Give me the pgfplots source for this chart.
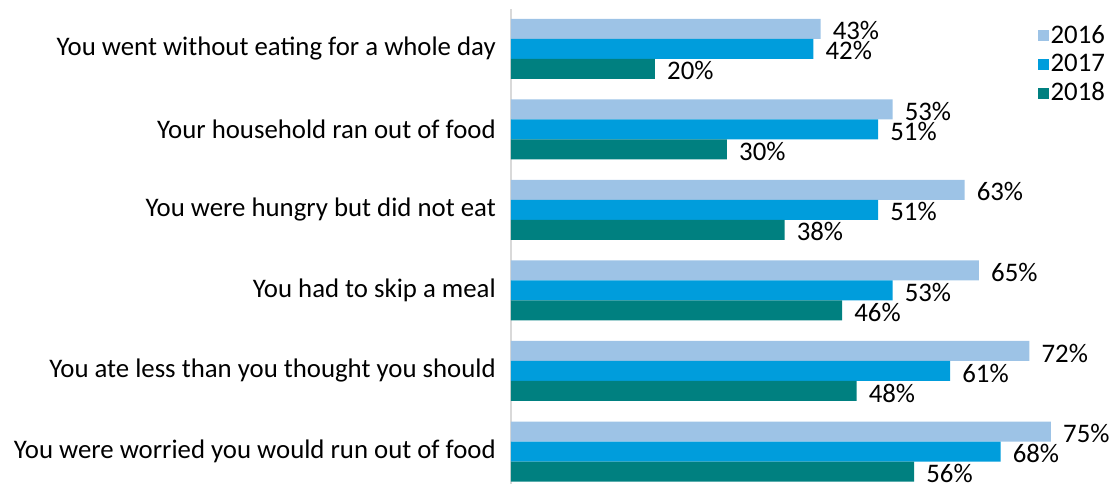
\documentclass[border=0pt]{standalone}
\usepackage{pgfplots}
\pgfplotsset{compat=1.18}
\usepackage{pgfplotstable}
\usepackage{fontspec}
\setmainfont{Carlito}
\definecolor{c16}{RGB}{157,195,230}
\definecolor{c17}{RGB}{0,157,220}
\definecolor{c18}{RGB}{0,128,128}
\definecolor{axgray}{RGB}{217,217,217}
\pgfplotstableread{
y v16 v17 v18
5 43 42 20
4 53 51 30
3 63 51 38
2 65 53 46
1 72 61 48
0 75 68 56
}\data
\newcommand{\bigfont}{\fontsize{26.8}{30}\selectfont}
\begin{document}
\begin{tikzpicture}
\begin{axis}[
  scale only axis,
  width=576pt, height=481.7pt,
  xmin=0, xmax=80,
  ymin=-0.49, ymax=5.49,
  xbar, bar width=20pt,
  axis x line=none,
  axis y line*=left,
  y axis line style={draw=axgray, line width=1.5pt},
  ytick={0,1,2,3,4,5},
  yticklabels={You were worried you would run out of food,
    You ate less than you thought you should,
    You had to skip a meal,
    You were hungry but did not eat,
    Your household ran out of food,
    You went without eating for a whole day},
  major tick length=0pt,
  ytick style={draw=none},
  yticklabel style={font=\bigfont, inner sep=0pt, anchor=east, xshift=-15pt},
  /pgf/number format/assume math mode=true,
  point meta=x,
  nodes near coords={\pgfmathprintnumber[assume math mode=true]{\pgfplotspointmeta}\%},
  nodes near coords style={font=\bigfont, inner sep=0pt, anchor=west, xshift=12pt, yshift=-2pt, text=black},
  legend style={at={(0.914,0.968)}, anchor=north west, draw=none, fill=none,
    font=\bigfont, row sep=9.5pt, inner sep=0pt,
    nodes={inner sep=0pt, inner xsep=2pt}},
  legend cell align=left,
  legend image code/.code={\fill[#1] (0pt,-6.5pt) rectangle (11pt,4.5pt);},
]
\addplot[fill=c16, draw=none, bar shift=20pt] table[x=v16, y=y] {\data};
\addplot[fill=c17, draw=none, bar shift=0pt] table[x=v17, y=y] {\data};
\addplot[fill=c18, draw=none, bar shift=-20pt] table[x=v18, y=y] {\data};
\legend{2016,2017,2018}
\end{axis}
\pgfresetboundingbox
\useasboundingbox (-511pt,8pt) rectangle (606pt,491pt);
\end{tikzpicture}
\end{document}
